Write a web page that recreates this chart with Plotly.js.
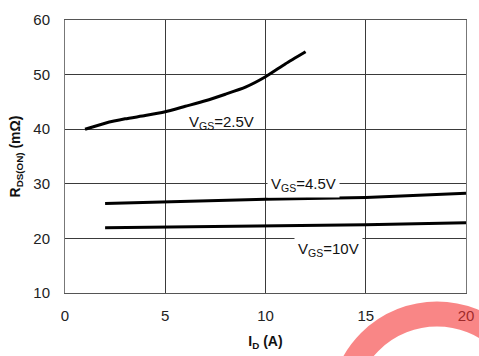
<!DOCTYPE html>
<html>
<head>
<meta charset="utf-8">
<script src="https://cdn.plot.ly/plotly-3.0.1.min.js"></script>
<style>
  html, body { margin: 0; padding: 0; background: #fff; }
  #chart { width: 479px; height: 356px; }
</style>
</head>
<body>
<div id="chart"></div>
<script>
// Drain current I_D (A) and on-resistance R_DS(ON) (mΩ) for three gate voltages
const idVgs25 = [1, 2, 3, 4, 5, 6, 7, 8, 9, 10, 11, 12];
const rdsVgs25 = [40.0, 41.1, 41.9, 42.5, 43.2, 44.2, 45.2, 46.4, 47.7, 49.6, 52.0, 54.2];

const idVgs45 = [2, 5, 10, 15, 20];
const rdsVgs45 = [26.4, 26.7, 27.15, 27.5, 28.25];

const idVgs10 = [2, 5, 10, 15, 20];
const rdsVgs10 = [21.95, 22.05, 22.2, 22.5, 22.85];

const xTicks = [0, 5, 10, 15, 20];
const yTicks = [10, 20, 30, 40, 50, 60];

const curveLabels = [
  { x: 7.8, y: 41.3, text: 'V<sub>GS</sub>=2.5V', bg: 'rgba(0,0,0,0)' },
  { x: 11.9, y: 29.8, text: 'V<sub>GS</sub>=4.5V', bg: '#ffffff' },
  { x: 13.15, y: 17.9, text: 'V<sub>GS</sub>=10V', bg: '#ffffff' }
];

const font = 'Liberation Sans, Arial, sans-serif';
const curveLine = { color: '#000000', width: 3 };

const traces = [
  { x: idVgs25, y: rdsVgs25, mode: 'lines', line: Object.assign({ shape: 'spline', smoothing: 0.5 }, curveLine), hoverinfo: 'skip' },
  { x: idVgs45, y: rdsVgs45, mode: 'lines', line: curveLine, hoverinfo: 'skip' },
  { x: idVgs10, y: rdsVgs10, mode: 'lines', line: curveLine, hoverinfo: 'skip' }
];

const layout = {
  width: 479,
  height: 356,
  margin: { l: 65, r: 13, t: 20, b: 63 },
  paper_bgcolor: '#ffffff',
  plot_bgcolor: '#ffffff',
  showlegend: false,
  font: { family: font, color: '#222222', size: 15 },
  xaxis: {
    range: [0, 20],
    tickvals: xTicks,
    ticktext: xTicks.map(String),
    ticks: '',
    ticklabelstandoff: 9,
    showgrid: true,
    gridcolor: '#3a3a3a',
    gridwidth: 1,
    zeroline: false,
    showline: true,
    linecolor: '#555555',
    linewidth: 1,
    mirror: true,
    tickfont: { family: font, size: 15, color: '#222222' },
    title: { text: '<b>I<sub>D</sub> (A)</b>', font: { family: font, size: 14, color: '#111111' }, standoff: 13 }
  },
  yaxis: {
    range: [10, 60],
    tickvals: yTicks,
    ticktext: yTicks.map(String),
    ticks: '',
    ticklabelstandoff: 11,
    showgrid: true,
    gridcolor: '#3a3a3a',
    gridwidth: 1,
    zeroline: false,
    showline: true,
    linecolor: '#777777',
    linewidth: 1,
    mirror: true,
    tickfont: { family: font, size: 15, color: '#222222' },
    title: { text: '<b>R<sub>DS(ON)</sub> (mΩ)</b>', font: { family: font, size: 14, color: '#111111' }, standoff: 9 }
  },
  annotations: curveLabels.map(l => ({
    x: l.x, y: l.y, xref: 'x', yref: 'y',
    text: l.text, showarrow: false,
    bgcolor: l.bg, borderpad: 3,
    font: { family: font, size: 15, color: '#111111' }
  })),
  shapes: [
    // lighter grid band near the left edge
    { type: 'rect', xref: 'x', yref: 'paper', x0: 0, x1: 2, y0: 0, y1: 1,
      fillcolor: 'rgba(255,255,255,0.55)', line: { width: 0 }, layer: 'between' },
    // pink stamp ring in the lower right corner
    { type: 'circle', xref: 'paper', yref: 'paper',
      x0: 0.6908, x1: 1.1646, y0: -0.7729, y1: -0.0769,
      line: { color: 'rgba(245,50,50,0.59)', width: 25 }, layer: 'above' }
  ]
};

Plotly.newPlot('chart', traces, layout, { displayModeBar: false, staticPlot: true });
</script>
</body>
</html>
